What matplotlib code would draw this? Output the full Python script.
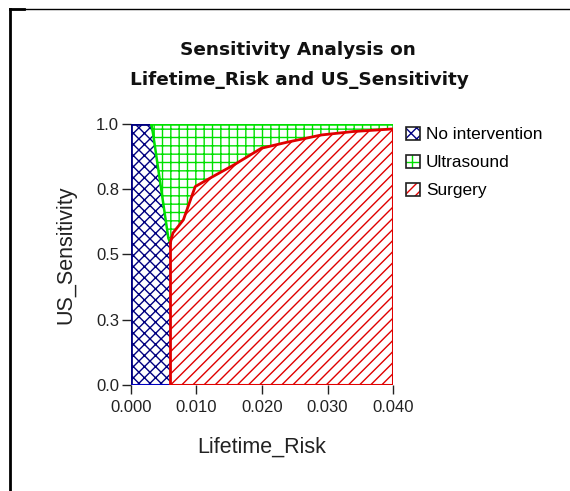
import matplotlib.pyplot as plt
from matplotlib.patches import Patch
from matplotlib.lines import Line2D

plt.rcParams['font.family'] = ['Liberation Sans', 'DejaVu Sans']
plt.rcParams['hatch.linewidth'] = 1.0

# boundary between No intervention and Ultrasound (x = Lifetime_Risk, y = US_Sensitivity)
none_us_x = [0.0031, 0.0034, 0.0057, 0.0060]
none_us_y = [1.0, 0.958, 0.563, 0.544]

# boundary between Ultrasound and Surgery
us_surg_x = [0.0060, 0.0064, 0.0080, 0.0098, 0.0121, 0.0157, 0.0199, 0.0238, 0.0291, 0.0339, 0.0400]
us_surg_y = [0.544, 0.582, 0.633, 0.760, 0.793, 0.843, 0.907, 0.930, 0.958, 0.971, 0.981]

x_ticks = [0.0, 0.01, 0.02, 0.03, 0.04]
x_labels = ['0.000', '0.010', '0.020', '0.030', '0.040']
y_ticks = [0.0, 0.25, 0.5, 0.75, 1.0]
y_labels = ['0.0', '0.3', '0.5', '0.8', '1.0']

strategies = ['No intervention', 'Ultrasound', 'Surgery']
colors = ['#000080', '#00e000', '#e00000']
hatches = ['xxx', '++', '///']

fig = plt.figure(figsize=(5.70, 4.91), dpi=100)
ax = fig.add_axes([0.2298, 0.2159, 0.4597, 0.5316])

x_min, x_max = x_ticks[0], x_ticks[-1]
y_min, y_max = y_ticks[0], y_ticks[-1]
x_cut = us_surg_x[0]

# region polygons
none_px = [x_min, x_cut] + none_us_x[::-1] + [x_min]
none_py = [y_min, y_min] + none_us_y[::-1] + [y_max]
us_px = none_us_x + us_surg_x[1:] + [x_max]
us_py = none_us_y + us_surg_y[1:] + [y_max]
surg_px = [x_cut, x_max] + us_surg_x[::-1]
surg_py = [y_min, y_min] + us_surg_y[::-1]

regions = [(none_px, none_py), (us_px, us_py), (surg_px, surg_py)]
for (px, py), c, h in zip(regions, colors, hatches):
    ax.fill(px, py, facecolor='white', edgecolor=c, hatch=h, linewidth=0, zorder=1)

# outlines
ax.plot([x_min, x_min, none_us_x[0]], [y_min, y_max, y_max], color=colors[0], lw=2, zorder=3)
ax.plot([x_min, x_cut], [y_min, y_min], color='#0000c0', lw=1.5, zorder=3)
ax.plot(none_us_x, none_us_y, color=colors[1], lw=1.8, zorder=3)
ax.plot([none_us_x[0], x_max], [y_max, y_max], color=colors[1], lw=1.8, zorder=3)
ax.plot([x_max, x_max], [y_max, us_surg_y[-1]], color=colors[1], lw=1.8, zorder=3)
ax.plot(us_surg_x, us_surg_y, color=colors[2], lw=2, zorder=4)
ax.plot([x_cut, x_cut], [y_min, us_surg_y[0]], color=colors[2], lw=2, zorder=4)
ax.plot([x_cut, x_max, x_max], [y_min, y_min, us_surg_y[-1]], color=colors[2], lw=1.5, zorder=4)

for s in ax.spines.values():
    s.set_visible(False)
ax.set_xlim(x_min, x_max)
ax.set_ylim(y_min, y_max)
ax.set_xticks(x_ticks)
ax.set_xticklabels(x_labels)
ax.set_yticks(y_ticks)
ax.set_yticklabels(y_labels)
ax.tick_params(direction='out', length=6.5, width=1, labelsize=12, pad=2, colors='#222222')
ax.tick_params(axis='x', pad=4)

ax.set_xlabel('Lifetime_Risk', fontsize=15.5, labelpad=16, color='#222222')
ax.set_ylabel('US_Sensitivity', fontsize=15.5, labelpad=14, color='#222222')

fig.text(0.523, 1 - 50 / 491, 'Sensitivity Analysis on', ha='center', va='center',
         fontsize=13.3, fontweight='bold', family='DejaVu Sans', color='#111111')
fig.text(0.525, 1 - 80 / 491, 'Lifetime_Risk and US_Sensitivity', ha='center', va='center',
         fontsize=13.3, fontweight='bold', family='DejaVu Sans', color='#111111')

handles = []
for c, h in zip(colors, hatches):
    fill = Patch(facecolor='white', edgecolor=c, hatch=h, linewidth=0)
    box = Patch(facecolor='none', edgecolor='#202020', linewidth=1.2)
    handles.append((fill, box))
ax.legend(handles, strategies, loc='upper left', bbox_to_anchor=(1.05, 0.99),
          frameon=False, fontsize=12.4, handlelength=0.8, handleheight=0.8,
          handletextpad=0.35, labelspacing=0.72, borderaxespad=0, borderpad=0)

# outer frame lines
fig.add_artist(Line2D([10 / 570, 10 / 570], [0, 1 - 9 / 491], color='black', lw=2))
fig.add_artist(Line2D([10 / 570, 1], [1 - 8.5 / 491, 1 - 8.5 / 491], color='black', lw=1))
fig.add_artist(Line2D([10 / 570, 24 / 570], [1 - 9 / 491, 1 - 9 / 491], color='black', lw=2))

fig.savefig('out.png', dpi=100)
